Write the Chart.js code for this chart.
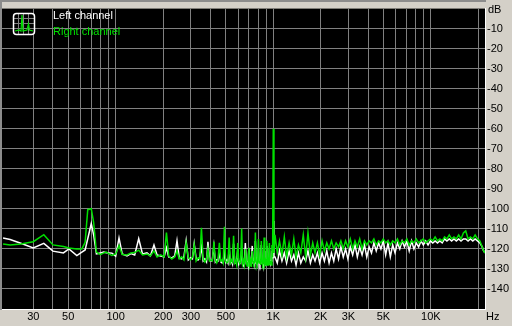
<!DOCTYPE html>
<html>
<head>
<meta charset="utf-8">
<title>Spectrum</title>
<script src="https://cdn.jsdelivr.net/npm/chart.js@4/dist/chart.umd.min.js"></script>
<style>
  html, body { margin: 0; padding: 0; background: #d4d0c8; }
  canvas { display: block; }
</style>
</head>
<body>
<canvas id="spectrum" width="512" height="326"></canvas>
<script>
/* ===========================
   Noise spectrum (L / R)
=========================== */

// frequencies in Hz (low part: hum harmonics of 35 Hz, high part: noise floor)
const lowFreqs = [
  19.3, 21.4, 25, 30, 35, 40, 46.6, 50.5, 56.7, 61,
  64, 66.5, 70, 72.5, 75.5, 80, 84, 87, 94.6, 100,
  105, 110, 118, 125, 132, 140, 148, 158, 166, 175,
  183, 193, 203, 210, 217, 227, 237, 245, 253, 262,
  271, 280, 289, 298, 307, 315, 324, 333, 342, 350,
  359, 368, 377, 385, 394, 403, 411, 420, 429, 438,
  446, 455, 464, 473, 481, 490, 498, 507, 516, 525,
  534, 543, 551, 560, 569, 578, 586, 595, 604, 613,
  621, 630, 639, 648, 656, 665, 674, 683, 691, 700,
  709, 718, 726, 735, 744, 753, 761, 770, 779, 788,
  796, 805, 814, 823, 831, 840, 849, 858, 866, 875,
  884, 893, 901, 910, 919, 928, 936, 945, 954, 963,
  971, 980, 990, 1000, 1010
];
const highFreqs = [
  1025, 1060, 1095, 1135, 1175, 1215, 1260, 1305, 1350, 1395,
  1445, 1495, 1550, 1605, 1660, 1720, 1780, 1840, 1905, 1970,
  2040, 2110, 2185, 2260, 2340, 2420, 2505, 2595, 2685, 2780,
  2875, 2975, 3080, 3190, 3300, 3415, 3535, 3660, 3790, 3920,
  4060, 4200, 4350, 4500, 4660, 4820, 4990, 5165, 5345, 5530,
  5725, 5925, 6135, 6350, 6570, 6800, 7040, 7285, 7540, 7805,
  8080, 8360, 8655, 8960, 9270, 9595, 9930, 10280, 10640, 11010,
  11400, 11800, 12210, 12640, 13080, 13540, 14010, 14500, 15010, 15530,
  16080, 16640, 17220, 17820, 18450, 19090, 19760, 20450, 21170, 21610,
  22050
];

// left channel, dB
const lowLeft = [
  -114.6, -115.3, -117.2, -119.5, -117.2, -121.1, -122, -120, -123.3, -121.6,
  -120.5, -114.9, -107.3, -113, -122.5, -122, -121.6, -121.9, -122.1, -123.6,
  -114.5, -122.5, -123.5, -122.3, -123, -114.9, -122.5, -122, -123.5, -118,
  -123, -123.5, -124, -119.5, -124, -124.5, -123.5, -115.9, -124.5, -125,
  -124, -115.9, -125.5, -124.5, -125, -117.5, -125, -125.5, -124, -119,
  -126, -125, -126.5, -116.4, -125.5, -126, -125, -118.5, -126.5, -125.5,
  -126, -121.6, -126.5, -127, -126, -121.6, -126.5, -125.5, -127, -120,
  -127, -126, -127.5, -117.5, -126.5, -127, -126, -120.5, -127.5, -126.5,
  -127, -121, -126, -128, -126.5, -117, -127, -126.5, -128, -119.5,
  -126.5, -127.5, -126, -118.5, -127, -126.5, -128, -116, -127, -126,
  -127.5, -120, -126.5, -128, -126.5, -118, -127, -126, -128, -121,
  -126.5, -127.5, -126, -118.5, -127, -126.5, -128, -120, -126.5, -127,
  -126, -121, -125, -106, -124
];
const highLeft = [
  -124, -127, -121, -126, -122, -127, -121, -126, -123, -128,
  -122, -127, -124, -126, -121, -127, -123, -126, -122, -127,
  -122, -126, -121, -127, -122, -126, -120, -125, -119, -124,
  -120, -125, -119, -123, -118, -124, -119, -123, -118, -124,
  -119, -122, -117, -121, -117, -120, -116, -123, -117, -124,
  -118, -122, -117, -120, -116, -119, -116, -121, -116, -120,
  -117, -119, -116, -118, -116, -118, -116, -117, -116, -117,
  -116, -117, -115, -116, -115, -116, -115, -116, -115, -116,
  -115, -115, -116, -115, -116, -115, -116, -117, -119, -121,
  -122
];

// right channel, dB
const lowRight = [
  -117.5, -118, -117.5, -116.4, -112.9, -118, -118.8, -119.5, -120, -120,
  -116.7, -100.4, -99.9, -106.9, -121.6, -122.9, -122, -121.6, -123.3, -122.5,
  -118.3, -122.8, -123, -122, -121.8, -120.6, -123, -122.5, -123.5, -121,
  -124, -123, -124, -111.8, -123.5, -125, -124, -121, -125, -124,
  -125.5, -117, -124.5, -125.5, -124, -118, -126, -124.5, -125, -109.4,
  -125, -126.5, -125, -120, -126, -125.5, -126, -116.4, -125.5, -127,
  -125.5, -117, -126, -125.5, -127, -108.9, -126, -127, -126.5, -114.3,
  -127, -125.5, -126.5, -113.4, -127, -126, -128, -117, -126, -127.5,
  -126.5, -109.8, -127.5, -126, -128, -120, -126.5, -128.5, -127, -119.5,
  -128, -126, -129, -121, -126, -127.5, -126.5, -111.8, -127, -128,
  -126.5, -115, -127, -126, -128, -116, -126.5, -128, -127, -114.3,
  -127.5, -126, -128, -115.9, -126, -128, -126.5, -117, -127.5, -126,
  -128, -118, -124, -60, -122
];
const highRight = [
  -113, -122, -116, -123, -114, -124, -117, -123, -115, -124,
  -118, -122, -113, -124, -112, -123, -117, -122, -117, -123,
  -116, -121, -117, -120, -116, -120, -117, -119, -116, -120,
  -116, -119, -115, -120, -116, -119, -115, -120, -116, -118,
  -116, -117, -115, -118, -116, -117, -115, -117, -116, -118,
  -116, -117, -115, -118, -116, -117, -115, -118, -116, -117,
  -115, -117, -116, -115, -117, -116, -115, -116, -114, -116,
  -115, -116, -114, -115, -113, -115, -114, -115, -113, -115,
  -112, -111, -115, -114, -115, -113, -115, -116, -119, -121,
  -122
];

// grid lines and labels of the frequency axis
const xGridValues = [30, 40, 50, 60, 70, 80, 90, 100, 200, 300, 400, 500, 600, 700, 800, 900,
  1000, 2000, 3000, 4000, 5000, 6000, 7000, 8000, 9000, 10000, 20000];
const xLabelValues = [30, 50, 100, 200, 300, 500, 1000, 2000, 3000, 5000, 10000];
const xLabelTexts = ["30", "50", "100", "200", "300", "500", "1K", "2K", "3K", "5K", "10K"];

const freqs = lowFreqs.concat(highFreqs);
const leftDb = lowLeft.concat(highLeft);
const rightDb = lowRight.concat(highRight);

const FONT = { family: "'Liberation Sans', Arial, sans-serif", size: 11 };
const GREEN = "#00e000";


// background, frame, legend and unit labels
const framePlugin = {
  id: "frame",
  beforeDraw(chart) {
    const c = chart.ctx, a = chart.chartArea;
    c.save();
    c.fillStyle = "#d4d0c8";
    c.fillRect(0, 0, chart.width, chart.height);
    c.fillStyle = "#000000";
    c.fillRect(a.left, a.top, a.right - a.left, a.bottom - a.top);
    c.fillStyle = "#8c8c8c";
    c.fillRect(0, 0, a.right + 1, 2);
    c.fillRect(0, 0, 2, a.bottom + 1);
    c.restore();
  },
  afterDraw(chart) {
    const c = chart.ctx;
    c.save();

    // legend icon
    c.fillStyle = "#000";
    c.fillRect(14, 14, 20, 20);
    c.strokeStyle = "#808080";
    c.lineWidth = 1;
    c.beginPath();
    [18.5, 23.5, 28.5].forEach(p => {
      c.moveTo(p, 14); c.lineTo(p, 34);
      c.moveTo(14, p); c.lineTo(34, p);
    });
    c.stroke();
    c.strokeStyle = GREEN;
    c.lineWidth = 1.2;
    c.beginPath();
    c.moveTo(15, 31); c.lineTo(19, 30); c.lineTo(21, 31); c.lineTo(22, 15);
    c.lineTo(23, 31); c.lineTo(27, 30); c.lineTo(28.5, 24); c.lineTo(29.5, 30); c.lineTo(33, 31);
    c.stroke();
    c.strokeStyle = "#ffffff";
    c.lineWidth = 1.5;
    c.beginPath();
    c.roundRect(13.5, 13.5, 21, 21, 3);
    c.stroke();

    // legend text
    c.font = `${FONT.size}px ${FONT.family}`;
    c.textBaseline = "alphabetic";
    c.textAlign = "left";
    c.fillStyle = "#ffffff";
    c.fillText("Left channel", 53, 19);
    c.fillStyle = GREEN;
    c.fillText("Right channel", 53, 35);

    // units
    c.fillStyle = "#000000";
    c.fillText("dB", 488, 13);
    c.fillText("Hz", 486, 320);
    c.restore();
  }
};


new Chart(document.getElementById("spectrum"), {
  type: "line",
  data: {
    datasets: [
      {
        label: "Left channel",
        data: freqs.map((f, i) => ({ x: f, y: leftDb[i] })),
        borderColor: "#ffffff",
        borderWidth: 1.5,
        pointRadius: 0,
        tension: 0,
        order: 1
      },
      {
        label: "Right channel",
        data: freqs.map((f, i) => ({ x: f, y: rightDb[i] })),
        borderColor: GREEN,
        borderWidth: 1.5,
        pointRadius: 0,
        tension: 0,
        order: 0
      }
    ]
  },
  options: {
    responsive: false,
    animation: false,
    devicePixelRatio: 1,
    layout: { padding: { left: 2, top: 2, right: 0, bottom: 0 } },
    plugins: { legend: { display: false }, tooltip: { enabled: false } },
    scales: {
      x: {
        type: "logarithmic",
        min: 19,
        max: 22050,
        afterBuildTicks: s => { s.ticks = xGridValues.map(v => ({ value: v })); },
        afterFit: s => { s.height = 17; },
        ticks: {
          autoSkip: false,
          maxRotation: 0,
          padding: 1,
          color: "#000000",
          font: FONT,
          callback: v => {
            const k = xLabelValues.indexOf(v);
            return k >= 0 ? xLabelTexts[k] : "";
          }
        },
        grid: { color: "#808080", drawTicks: false },
        border: { color: "#ffffff", width: 1 }
      },
      y: {
        position: "right",
        min: -150,
        max: 0,
        afterFit: s => { s.width = 27; },
        ticks: {
          stepSize: 10,
          padding: 2,
          color: "#000000",
          font: FONT,
          callback: v => (v === 0 || v === -150) ? "" : String(v)
        },
        grid: {
          drawTicks: false,
          color: c => (c.tick && (c.tick.value === -150 || c.tick.value === 0)) ? "rgba(0,0,0,0)" : "#808080"
        },
        border: { color: "#ffffff", width: 1 }
      }
    }
  },
  plugins: [framePlugin]
});
</script>
</body>
</html>
